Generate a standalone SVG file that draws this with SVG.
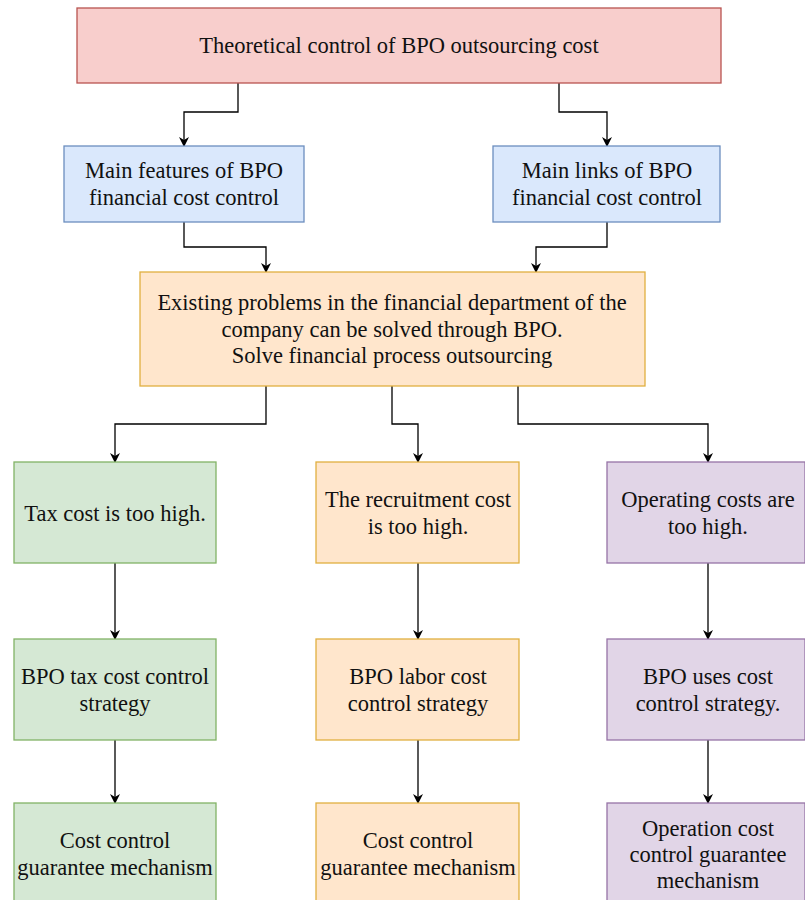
<svg xmlns="http://www.w3.org/2000/svg" width="805" height="900" viewBox="0 0 805 900">
<defs>
<style>
text{font-family:"Liberation Serif","Times New Roman",serif;font-size:22.5px;fill:#111;text-anchor:middle;}
.red{fill:#f8cecc;stroke:#b85450;stroke-width:1.3}
.blue{fill:#dae8fc;stroke:#6c8ebf;stroke-width:1.3}
.orange{fill:#ffe6cc;stroke:#e0b040;stroke-width:1.3}
.green{fill:#d5e8d4;stroke:#82b366;stroke-width:1.3}
.purple{fill:#e1d5e7;stroke:#9673a6;stroke-width:1.3}
.edge{fill:none;stroke:#000;stroke-width:1.3;marker-end:url(#arr)}
</style>
<marker id="arr" viewBox="0 0 10 10" refX="9" refY="5" markerWidth="10" markerHeight="10" markerUnits="userSpaceOnUse" orient="auto">
<path d="M0,0 L10,5 L0,10 L3,5 Z" fill="#000"/>
</marker>
</defs>
<rect width="805" height="900" fill="#fff"/>
<g id="connectors">
<path class="edge" d="M238,83 V112 H184 V146"/>
<path class="edge" d="M559,83 V112 H607 V146"/>
<path class="edge" d="M184,222 V247 H266 V272"/>
<path class="edge" d="M607,222 V247 H536 V272"/>
<path class="edge" d="M266,386 V424 H115 V462"/>
<path class="edge" d="M392,386 V424 H418 V462"/>
<path class="edge" d="M518,386 V424 H708 V462"/>
<path class="edge" d="M115,563 V639"/>
<path class="edge" d="M418,563 V639"/>
<path class="edge" d="M708,563 V639"/>
<path class="edge" d="M115,740 V803"/>
<path class="edge" d="M418,740 V803"/>
<path class="edge" d="M708,740 V803"/>
</g>
<g id="n-top"><rect class="red" x="77" y="8" width="644" height="75"/><text x="399" y="53">Theoretical control of BPO outsourcing cost</text></g>
<g id="n-features"><rect class="blue" x="64" y="146" width="240" height="76"/><text x="184" y="178">Main features of BPO</text><text x="184" y="205">financial cost control</text></g>
<g id="n-links"><rect class="blue" x="493" y="146" width="227" height="76"/><text x="607" y="178">Main links of BPO</text><text x="607" y="205">financial cost control</text></g>
<g id="n-problems"><rect class="orange" x="140" y="272" width="505" height="114"/><text x="392" y="310">Existing problems in the financial department of the</text><text x="392" y="337">company can be solved through BPO.</text><text x="392" y="363">Solve financial process outsourcing</text></g>
<g id="n-tax"><rect class="green" x="14" y="462" width="202" height="101"/><text x="115" y="521">Tax cost is too high.</text></g>
<g id="n-recruit"><rect class="orange" x="316" y="462" width="203" height="101"/><text x="418" y="507">The recruitment cost</text><text x="418" y="534">is too high.</text></g>
<g id="n-operating"><rect class="purple" x="607" y="462" width="198" height="101"/><text x="708" y="507">Operating costs are</text><text x="708" y="534">too high.</text></g>
<g id="n-taxstrat"><rect class="green" x="14" y="639" width="202" height="101"/><text x="115" y="684">BPO tax cost control</text><text x="115" y="711">strategy</text></g>
<g id="n-laborstrat"><rect class="orange" x="316" y="639" width="203" height="101"/><text x="418" y="684">BPO labor cost</text><text x="418" y="711">control strategy</text></g>
<g id="n-usesstrat"><rect class="purple" x="607" y="639" width="198" height="101"/><text x="708" y="684">BPO uses cost</text><text x="708" y="711">control strategy.</text></g>
<g id="n-guar1"><rect class="green" x="14" y="803" width="202" height="101"/><text x="115" y="848">Cost control</text><text x="115" y="875">guarantee mechanism</text></g>
<g id="n-guar2"><rect class="orange" x="316" y="803" width="203" height="101"/><text x="418" y="848">Cost control</text><text x="418" y="875">guarantee mechanism</text></g>
<g id="n-guar3"><rect class="purple" x="607" y="803" width="198" height="101"/><text x="708" y="836">Operation cost</text><text x="708" y="862">control guarantee</text><text x="708" y="888">mechanism</text></g>
</svg>
